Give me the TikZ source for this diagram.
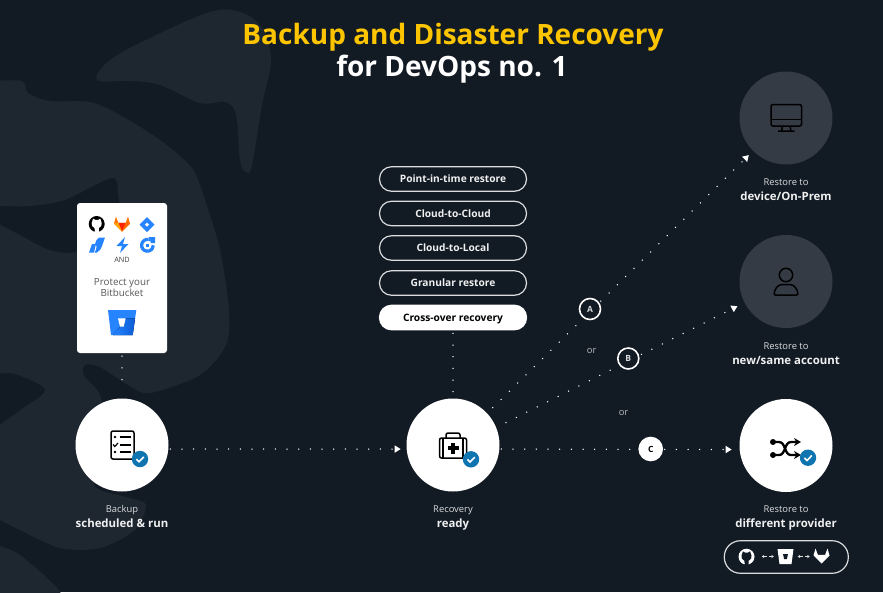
\documentclass[tikz,border=0pt]{standalone}
\usepackage{fontspec}
\setmainfont{Open Sans}
\usetikzlibrary{calc,arrows.meta,positioning}
\definecolor{pagebg}{HTML}{121A24}
\definecolor{blobbg}{HTML}{1E2630}
\definecolor{greydisc}{HTML}{343B45}
\definecolor{checkblue}{HTML}{0F75B0}
\definecolor{titleyellow}{HTML}{FDC500}
\definecolor{softwhite}{HTML}{DADCDE}
\definecolor{logoblue}{HTML}{2684FF}
\definecolor{logodark}{HTML}{0B5CD6}
\newcommand{\capline}[1]{{\bfseries\fontsize{11.4}{14}\selectfont\color{white!94!black}#1}}
\tikzset{
	hubdisc/.style={circle,fill=white,minimum size=93pt,inner sep=0pt,outer sep=0pt},
	greyhub/.style={hubdisc,fill=greydisc},
	caption/.style={align=center,text=softwhite,inner sep=0pt,font=\fontsize{9.4}{15}\selectfont},
	pillbox/.style={draw=softwhite,line width=1.2pt,rounded corners=12pt,minimum width=147pt,minimum height=24.5pt,inner sep=0pt,text height=9pt,text depth=1.6pt,text=white!94!black,font=\bfseries\fontsize{10.2}{12}\selectfont},
	letterbadge/.style={circle,draw=white,line width=1.6pt,fill=pagebg,minimum size=21pt,inner sep=0pt,text=softwhite,font=\bfseries\fontsize{8.5}{10}\selectfont},
	ortext/.style={text=softwhite!85!black,inner sep=0pt,font=\fontsize{9.4}{11}\selectfont},
	dotflow/.style={white,line width=1.5pt,line cap=round,dash pattern=on 0pt off 11.67pt},
	smalltip/.style={-{Triangle[length=6pt,width=7pt]}},
	iconline/.style={black,line width=1.5pt,line join=round},
	pics/checkbadge/.style={code={
		\fill[checkblue] (0,0) circle (8.2);
		\draw[white,line width=1.6pt] (-3.6,0.2)--(-1,2.8)--(3.8,-2.2);
	}},
	pics/ghlogo/.style 2 args={code={
		\fill[#1] (0,0) circle (8);
		\fill[#2] (-3.6,-5.4)--(-1.6,-4.2)--(1.6,-4.2)--(3.6,-5.4)--(5,-1) to[bend left=40] (2.2,4)--(2.2,8.2)--(-2.2,8.2)--(-2.2,4) to[bend left=40] (-5,-1)--cycle;
		\fill[#1] (-6,3.4) to[bend right=30] (-2,5.8)--(-2,7.2) to[bend left=30] (-6,3.4);
	}},
	pics/foxlogo/.style={code={
		\fill[white] (-8,-1)--(-6,-8)--(-3.6,-1.6)--(3.6,-1.6)--(6,-8)--(8,-1)--(0,7)--cycle;
	}}
}
\begin{document}
\begin{tikzpicture}[x=1pt,y=-1pt]
	\useasboundingbox (0,0) rectangle (883,592);
	\fill[pagebg] (0,0) rectangle (883,592);
	% background swirl
	\begin{scope}
		\clip (0,0) rectangle (883,592);
		\fill[blobbg] plot[smooth cycle,tension=0.6] coordinates {(97,80) (110,60) (150,38) (210,12) (240,12) (262,28) (271,60) (262,105) (252,165) (246,172) (240,160) (236,115) (225,102) (200,103) (160,85) (130,81)};
		\fill[blobbg] plot[smooth cycle,tension=0.5] coordinates {(-40,82) (-10,81) (22,81) (28,93) (50,101) (90,102) (120,115) (160,140) (192,168) (205,200) (220,250) (229,310) (226,345) (200,375) (150,393) (128,385) (100,367) (85,365) (84,376) (100,395) (110,440) (95,480) (100,490) (130,498) (146,505) (135,530) (100,548) (60,548) (20,530) (-10,515) (-40,500) (-60,400) (-60,200)};
		\fill[blobbg] plot[smooth cycle,tension=0.5] coordinates {(-30,530) (-5,544) (20,555) (60,592) (60,620) (-30,620)};
		\fill[pagebg] plot[smooth cycle,tension=0.5] coordinates {(-30,206) (0,206) (30,206) (65,200) (112,178) (118,195) (118,215) (100,235) (75,252) (50,250) (20,235) (-5,222) (-30,212)};
		\fill[pagebg] plot[smooth cycle,tension=0.5] coordinates {(-30,375) (-5,374) (15,374) (45,390) (20,410) (-5,428) (-30,445)};
	\end{scope}
	% title
	\node[anchor=base,inner sep=0pt,text=titleyellow,font=\bfseries\fontsize{28}{30}\selectfont] (titleone) at (453,44.3) {Backup and Disaster Recovery};
	\node[anchor=base,inner sep=0pt,text=white,font=\bfseries\fontsize{28}{30}\selectfont] (titletwo) at (452,76.7) {for DevOps no. 1};
	% discs
	\node[hubdisc] (backup) at (122,445) {};
	\node[hubdisc] (recovery) at (453,445) {};
	\node[hubdisc] (different) at (786,445.5) {};
	\node[greyhub] (device) at (786,118) {};
	\node[greyhub] (account) at (786,281.5) {};
	% captions
	\node[caption,anchor=north] (backupcap) at (122,505.5) {Backup\\[-0.4pt]\capline{scheduled \& run}};
	\node[caption,anchor=north] (recoverycap) at (453,505.5) {Recovery\\[-0.4pt]\capline{ready}};
	\node[caption,anchor=north] (differentcap) at (786,505.5) {Restore to\\[-0.4pt]\capline{different provider}};
	\node[caption,anchor=north] (devicecap) at (786,179) {Restore to\\[-0.4pt]\capline{device/On-Prem}};
	\node[caption,anchor=north] (accountcap) at (786,342.5) {Restore to\\[-0.4pt]\capline{new/same account}};
	% restore options
	\foreach \pilly/\pillname/\pilltext in {179/pointtime/Point-in-time restore,213.5/cloudcloud/Cloud-to-Cloud,248/cloudlocal/Cloud-to-Local,283/granular/Granular restore}
		\node[pillbox] (\pillname) at (453,\pilly) {\pilltext};
	\node[pillbox,fill=white,draw=white,text=black] (crossover) at (453,317.5) {Cross-over recovery};
	% card
	\node[fill=white,rounded corners=3pt,minimum width=90pt,minimum height=150pt,inner sep=0pt] (card) at (122,278) {};
	\node[inner sep=0pt,text=black!75,font=\fontsize{7.3}{8}\selectfont] (andtext) at (122,259.5) {AND};
	\node[inner sep=0pt,text=black!65,align=center,font=\fontsize{9.8}{11.7}\selectfont] (protect) at (122,287.5) {Protect your\\Bitbucket};
	% connectors
	\draw[dotflow,shorten <=3pt,shorten >=8pt] (card.south)--(backup.north);
	\draw[dotflow,shorten <=3pt,shorten >=6pt] (crossover.south)--(recovery.north);
	\draw[dotflow,smalltip,shorten <=2pt,shorten >=6pt] (backup.-5)--(recovery.185);
	\draw[dotflow,smalltip,shorten <=2pt,shorten >=8pt] (recovery.-5)--(different.185);
	\draw[dotflow,smalltip,shorten <=8pt,shorten >=6pt] (recovery.43)--(device.225);
	\draw[dotflow,smalltip,shorten <=11pt,shorten >=8pt] (recovery.22)--(account.207);
	% badges
	\node[letterbadge] (badgea) at (590,309) {A};
	\node[letterbadge] (badgeb) at (628.3,358.5) {B};
	\node[letterbadge,fill=white,text=black,minimum size=23pt] (badgec) at (650.7,449) {C};
	\node[ortext] (ora) at (591.7,350.5) {or};
	\node[ortext] (orb) at (623.5,413) {or};
	% backup icon
	\begin{scope}[shift={(backup)}]
		\draw[iconline,rounded corners=2pt] (-11,-14) rectangle (12,14);
		\foreach \rowy in {-8,0,7}
			\draw[iconline] (-2.5,\rowy)--(8.5,\rowy);
		\fill (-7,-8) circle (1.4);
		\fill (-7,7) circle (1.4);
		\draw[black,line width=1.2pt] (-9,-0.5)--(-7.2,1.5)--(-4,-2);
		\pic at (18,14) {checkbadge};
	\end{scope}
	% recovery icon
	\begin{scope}[shift={(recovery)}]
		\draw[iconline,fill=white,rounded corners=2pt] (-7,-7)--(-7,-12)--(7,-12)--(7,-7);
		\draw[iconline,rounded corners=2pt] (-13.5,-7) rectangle (13.5,13);
		\draw[iconline] (-10,-7)--(-10,13);
		\draw[iconline] (10,-7)--(10,13);
		\fill[black] (-1.7,-2.5) rectangle (1.7,8.5);
		\fill[black] (-5.5,1.3) rectangle (5.5,4.7);
		\pic at (18,14.3) {checkbadge};
	\end{scope}
	% shuffle icon
	\begin{scope}[shift={(different)}]
		\fill (-13,-3.5) circle (3);
		\fill (-13,9.5) circle (3);
		\draw[black,line width=2.3pt,-{Stealth[length=7pt,width=8pt]}] (-13,-3.5)--(-7,-3.5) to[out=0,in=180] (5,9.5)--(15,9.5);
		\draw[black,line width=2.3pt,-{Stealth[length=7pt,width=8pt]}] (-13,9.5)--(-7,9.5) to[out=0,in=180] (5,-3.5)--(15,-3.5);
		\pic at (22,12.2) {checkbadge};
	\end{scope}
	% monitor icon
	\begin{scope}[shift={(device)}]
		\draw[iconline,rounded corners=2pt] (-15,-13.5) rectangle (15.5,8);
		\draw[iconline] (-15,1.3)--(15.5,1.3);
		\draw[iconline] (-3.5,8)--(-4.5,13) (4,8)--(5,13) (-8,13)--(8.5,13);
	\end{scope}
	% person icon
	\begin{scope}[shift={(account)}]
		\draw[iconline] (0,-6.5) circle (6.7);
		\draw[iconline,rounded corners=1pt] (-11.8,13.5) to[out=90,in=180] (-3,3)--(3,3) to[out=0,in=90] (11.8,13.5)--cycle;
	\end{scope}
	% logos on the card
	\pic at (96.7,224) {ghlogo={black}{white}};
	\begin{scope}[shift={(122,224.5)}]
		\fill[orange!90!red] (-8,-1)--(-6,-8)--(-3.6,-1.6)--(3.6,-1.6)--(6,-8)--(8,-1)--(0,7)--cycle;
		\fill[red!75!orange] (-3.6,-1.6)--(3.6,-1.6)--(0,7)--cycle;
		\fill[orange!70!yellow] (-8,-1)--(-3.6,-1.6)--(0,7)--cycle;
		\fill[orange!80!red] (8,-1)--(3.6,-1.6)--(0,7)--cycle;
	\end{scope}
	\begin{scope}[shift={(147,224.5)}]
		\fill[logoblue] (0,-7.5)--(7.5,0)--(0,7.5)--(-7.5,0)--cycle;
		\fill[white] (0,-2)--(2,0)--(0,2)--(-2,0)--cycle;
	\end{scope}
	\begin{scope}[shift={(97,245)}]
		\fill[logoblue] (-8,7.5)--(-5,-1)--(-1,-1)--(-3,7.5)--cycle;
		\fill[logoblue] (-2,-1) to[bend left=20] (2,-7.5)--(8,-7.5)--(5,1) to[bend left=20] (0,7.5)--(-2.5,7.5) to[bend right=20] (-0.5,1)--cycle;
	\end{scope}
	\begin{scope}[shift={(122.5,245)}]
		\fill[logoblue] (2.5,-8)--(-6,1)--(-0.5,1)--(-2.5,8)--(6,-1)--(0.5,-1)--cycle;
	\end{scope}
	\begin{scope}[shift={(147.5,245)}]
		\draw[logoblue,line width=3.2pt] (1,-5.5) arc[start angle=-80,end angle=-360,radius=5.9];
		\fill[logoblue] (1,-8)--(7.5,-8)--(7.5,-2)--(3,-2)--(3,-4)--(1,-4)--cycle;
		\fill[logoblue] (-1.5,-1.5) rectangle (1.5,1.5);
	\end{scope}
	\begin{scope}[shift={(122,322.5)}]
		\fill[logoblue] (-14,-12.5)--(14.3,-12.5)--(10.7,12.5)--(-11,12.5)--cycle;
		\fill[left color=logoblue,right color=logodark] (3.7,-4.2)--(13,-4.2)--(10.7,12.5)--(-9,12.5)--(-2,4.2)--(1.7,4.2)--cycle;
		\fill[white] (-4,-4.2)--(3.7,-4.2)--(1.7,4.2)--(-2,4.2)--cycle;
	\end{scope}
	% provider pill
	\node[draw=softwhite,line width=1.2pt,rounded corners=16pt,minimum width=124pt,minimum height=32.5pt,inner sep=0pt] (providers) at (786.3,557) {};
	\pic at (746.5,556.7) {ghlogo={white}{pagebg}};
	\coordinate (leftgap) at (767.8,556.5);
	\coordinate (rightgap) at (803.7,556.5);
	\foreach \gapname in {leftgap,rightgap}{
		\draw[softwhite,line width=0.7pt,-{Stealth[length=2.5pt,width=3.4pt]},shorten <=1.2pt] (\gapname)--++(-6,0);
		\draw[softwhite,line width=0.7pt,-{Stealth[length=2.5pt,width=3.4pt]},shorten <=1.2pt] (\gapname)--++(6,0);
	}
	\begin{scope}[shift={(785.5,556.5)}]
		\fill[white] (-8,-7.5)--(8,-7.5)--(6,7.5)--(-6,7.5)--cycle;
		\fill[pagebg] (-2.5,-2.5)--(2.5,-2.5)--(1.4,2.5)--(-1.4,2.5)--cycle;
	\end{scope}
	\pic at (821.5,556.5) {foxlogo};
\end{tikzpicture}
\end{document}
